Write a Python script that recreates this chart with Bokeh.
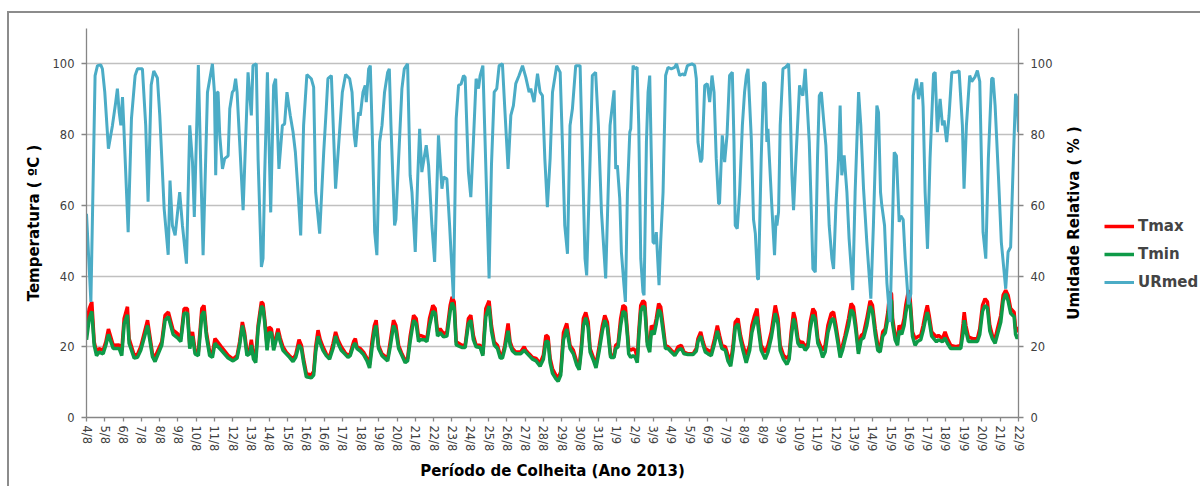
from bokeh.embed import file_html
from bokeh.layouts import row
from bokeh.models import FixedTicker, Legend, LegendItem, LinearAxis, Range1d, Title
from bokeh.plotting import figure
from bokeh.resources import INLINE

# x labels, one per day (as in the original sheet, 16/8 and 8/9 appear twice)
dias = ["4/8", "5/8", "6/8", "7/8", "8/8", "9/8", "10/8", "11/8", "12/8",
        "13/8", "14/8", "15/8", "16/8", "16/8", "17/8", "18/8", "19/8", "20/8",
        "21/8", "22/8", "23/8", "24/8", "25/8", "26/8", "27/8", "28/8", "29/8",
        "30/8", "31/8", "1/9", "2/9", "3/9", "4/9", "5/9", "6/9", "7/9", "8/9",
        "8/9", "9/9", "10/9", "11/9", "12/9", "13/9", "14/9", "15/9", "16/9",
        "17/9", "18/9", "19/9", "20/9", "21/9", "22/9"]

# relative humidity (%), time in days from the first label
t_ur = [0.0, 0.24, 0.47, 0.6, 0.78, 0.87, 1.0, 1.2, 1.42, 1.6, 1.69, 1.79, 1.88, 1.97, 2.04,
        2.28, 2.46, 2.66, 2.79, 3.06, 3.24, 3.37, 3.54, 3.68, 3.88, 4.01, 4.25, 4.47, 4.57,
        4.7, 4.85, 5.1, 5.25, 5.47, 5.65, 5.8, 5.9, 6.12, 6.25, 6.38, 6.62, 6.89, 7.0, 7.07,
        7.16, 7.2, 7.29, 7.44, 7.56, 7.75, 7.84, 7.98, 8.06, 8.16, 8.24, 8.38, 8.57, 8.84,
        9.02, 9.11, 9.29, 9.39, 9.57, 9.66, 9.75, 9.9, 10.08, 10.24, 10.35, 10.53, 10.72,
        10.84, 10.97, 11.15, 11.3, 11.43, 11.59, 11.72, 11.88, 12.06, 12.3, 12.43, 12.54,
        12.76, 12.98, 13.12, 13.21, 13.4, 13.63, 13.81, 14.0, 14.18, 14.4, 14.53, 14.65,
        14.73, 14.89, 14.98, 15.13, 15.25, 15.31, 15.44, 15.53, 15.65, 15.77, 15.89, 16.04,
        16.17, 16.31, 16.48, 16.57, 16.66, 16.86, 16.93, 17.08, 17.26, 17.39, 17.57, 17.71,
        17.81, 17.99, 18.13, 18.23, 18.35, 18.59, 18.72, 18.9, 19.05, 19.26, 19.45, 19.54,
        19.72, 19.87, 20.08, 20.23, 20.36, 20.5, 20.63, 20.72, 20.9, 21.03, 21.17, 21.32,
        21.45, 21.54, 21.69, 21.8, 22.03, 22.16, 22.31, 22.45, 22.58, 22.76, 22.89, 23.07,
        23.22, 23.36, 23.49, 23.67, 23.86, 24.04, 24.22, 24.31, 24.49, 24.68, 24.82, 24.95,
        25.08, 25.22, 25.37, 25.5, 25.73, 25.92, 26.04, 26.17, 26.32, 26.46, 26.59, 26.77,
        27.01, 27.14, 27.28, 27.37, 27.56, 27.68, 27.86, 28.01, 28.18, 28.41, 28.65, 28.87,
        28.96, 29.05, 29.18, 29.27, 29.41, 29.49, 29.6, 29.73, 29.78, 29.91, 30.0, 30.13,
        30.22, 30.33, 30.45, 30.51, 30.64, 30.73, 30.82, 30.91, 31.0, 31.09, 31.18, 31.33,
        31.42, 31.55, 31.69, 31.82, 32.0, 32.18, 32.29, 32.46, 32.64, 32.73, 32.88, 33.13,
        33.28, 33.37, 33.46, 33.61, 33.68, 33.83, 33.97, 34.1, 34.23, 34.34, 34.46, 34.59,
        34.64, 34.79, 34.92, 35.05, 35.19, 35.34, 35.43, 35.5, 35.61, 35.74, 35.89, 36.01,
        36.11, 36.2, 36.38, 36.5, 36.6, 36.72, 36.77, 36.92, 37.05, 37.14, 37.23, 37.29,
        37.36, 37.51, 37.65, 37.74, 37.78, 37.87, 37.96, 38.11, 38.24, 38.42, 38.51, 38.6,
        38.69, 38.82, 39.02, 39.11, 39.2, 39.33, 39.42, 39.55, 39.66, 39.75, 39.88, 40.0,
        40.1, 40.21, 40.33, 40.46, 40.64, 40.79, 40.88, 41.01, 41.15, 41.24, 41.33, 41.46,
        41.61, 41.73, 41.93, 42.06, 42.25, 42.37, 42.52, 42.7, 42.92, 43.06, 43.25, 43.34,
        43.45, 43.52, 43.67, 43.8, 43.97, 44.2, 44.32, 44.47, 44.56, 44.69, 44.8, 44.98,
        45.11, 45.24, 45.42, 45.53, 45.71, 45.78, 45.89, 46.02, 46.16, 46.35, 46.44, 46.56,
        46.71, 46.84, 46.93, 47.07, 47.2, 47.35, 47.57, 47.75, 47.93, 48.02, 48.15, 48.33,
        48.44, 48.63, 48.75, 48.88, 48.97, 49.06, 49.21, 49.35, 49.53, 49.61, 49.72, 49.9,
        50.06, 50.3, 50.43, 50.57, 50.72, 50.84, 50.93, 51.0]
ur = [57.6, 32.7, 96.7, 99.5, 99.7, 98.6, 92, 76, 82.6, 89.2, 93, 86.3, 82.6, 90.6, 82.6,
      52.4, 84.5, 96.7, 98.6, 98.6, 82.6, 61, 94, 98, 96, 85.4, 59, 46, 67,
      54.3, 51.5, 63.7, 54.3, 43.5, 82.6, 72.2, 56.7, 99.7, 71.3, 45.9, 92, 100, 92, 68.5,
      92, 92, 80, 70.3, 73.2, 74, 87.3, 92, 92.5, 95.8, 92, 78, 58.6, 97.6,
      85.4, 99.5, 100, 73, 42.6, 45, 68.5, 97.6, 58, 93.9, 95.8, 70.3, 82.6,
      83, 92, 85.4, 80.8, 75, 62.8, 51.5, 82.6, 97, 95.8, 93.4, 63.7,
      52, 75, 87.3, 95.8, 96.7, 64.7, 77.9, 92, 97, 95.8, 92, 79.8,
      76.5, 86.3, 85.4, 92, 93.9, 89.2, 98.6, 99.5, 77.9, 52.4, 45.9, 77.9,
      82.6, 92, 97.6, 98.6, 82.6, 54.3, 56, 73.2, 93, 98.6, 100, 68.5,
      63.7, 46.8, 68.5, 81.6, 69.4, 77, 71.3, 54.3, 44, 79.8, 64.7, 68,
      67.5, 54.3, 33.6, 84.5, 93.9, 94.3, 96.7, 96.2, 69.4, 62.3, 77.9, 95.8,
      93, 96.7, 99.5, 80, 39.3, 71.3, 92, 93, 99.5, 100, 87.3, 70.3,
      85.4, 88.2, 94.4, 96.7, 99.5, 96.2, 92, 93, 89.2, 97.2, 92, 91,
      73.2, 59.5, 73.2, 92, 99.5, 97.6, 77.9, 54.3, 46.3, 82.6, 87.3, 99.5,
      99.5, 73.2, 44.9, 40.2, 73.2, 96.7, 97.6, 82.6, 58.1, 39.3, 82.6, 92.5,
      70.3, 71.3, 61.9, 46.8, 37.4, 32.7, 63.7, 80.7, 81.6, 99.5, 98.6, 99,
      82.6, 44.9, 35.5, 34.6, 77.9, 92, 96.7, 73.2, 49.6, 49.2, 52.4, 37.4,
      49.6, 63.7, 96.7, 99, 98.6, 99, 100, 96.7, 97.2, 96.7, 99.5, 100,
      99.5, 95.8, 77.9, 72.2, 73.2, 93.9, 94.4, 89.2, 96.7, 92, 73.2, 60.5,
      60.5, 79.8, 72.2, 79.8, 96.7, 97.6, 77.9, 54.3, 53.4, 63.7, 82.6, 92,
      96.7, 98.6, 78.8, 56, 52, 39.3, 39, 73.2, 94.8, 94.4, 77.9, 81.6,
      74.1, 59, 45.9, 57.2, 54.3, 58.1, 82.6, 98.6, 99, 100, 87.3, 68.5,
      58.6, 73.2, 93.9, 92, 91, 98.6, 90.1, 77.9, 59, 42, 41.1, 73.2,
      91, 92, 84.5, 76.9, 54.3, 44.9, 42, 60, 73.2, 88.2, 68.5, 74.1,
      63.7, 50.6, 36, 63.7, 92, 82.6, 64.7, 49.6, 33.6, 54.3, 88.2, 86.3,
      63.7, 60, 54.3, 38, 27, 75, 74, 55.3, 57, 56, 45, 32,
      35, 91, 95.8, 90, 94.8, 88, 63.7, 47.7, 73.2, 97.2, 97.6, 80.7,
      90.1, 82.6, 84, 77.9, 85.4, 97.6, 97.6, 98, 82.6, 64.7, 82.6, 96.7,
      95, 96.4, 98.1, 95, 73.2, 52.4, 44.9, 73.2, 95.8, 96, 88.2, 68.5,
      49.6, 36.4, 46.8, 48.2, 73.2, 91.5, 90, 80.7]

# temperatures (ºC), shared time axis
t_temp = [0.0, 0.15, 0.29, 0.42, 0.55, 0.69, 0.91, 1.06, 1.2, 1.46, 1.79, 1.93, 2.06, 2.24,
          2.33, 2.61, 2.79, 2.97, 3.34, 3.61, 3.75, 4.12, 4.3, 4.48, 4.74, 4.98, 5.16, 5.34,
          5.52, 5.65, 5.8, 5.94, 6.12, 6.31, 6.43, 6.56, 6.74, 6.89, 7.03,
          7.11, 7.38, 7.75, 8.02, 8.24, 8.38, 8.53, 8.65, 8.78, 8.93, 9.02, 9.14, 9.26, 9.39,
          9.57, 9.66, 9.75, 9.88, 9.99, 10.12, 10.24, 10.48, 10.6, 10.75, 10.93, 11.11, 11.3,
          11.45, 11.63, 11.76, 11.88, 12.03, 12.3, 12.43, 12.54, 12.67, 12.79, 12.94, 13.12,
          13.3, 13.49, 13.63, 13.76, 13.94, 14.13, 14.31,
          14.43, 14.62, 14.71, 14.8, 14.98, 15.16, 15.35, 15.49, 15.62, 15.75, 15.85, 15.98,
          16.17, 16.48, 16.62, 16.8, 16.93, 17.08, 17.26, 17.44, 17.57, 17.71, 17.9, 18.04,
          18.17, 18.26, 18.48, 18.63, 18.77, 18.95, 19.08, 19.21, 19.35, 19.54, 19.72, 19.9,
          20.01, 20.12, 20.23, 20.54, 20.72, 20.9, 21.03, 21.17, 21.32, 21.54, 21.69,
          21.85, 22.03, 22.16, 22.31, 22.49, 22.64, 22.76, 22.89, 23.07, 23.18, 23.31, 23.49,
          23.76, 23.95, 24.04, 24.22, 24.41, 24.6, 24.82, 25.0, 25.14, 25.26, 25.37, 25.5,
          25.68, 25.81, 25.95, 26.1, 26.28, 26.46, 26.64, 26.83, 26.96, 27.08, 27.19, 27.32,
          27.45, 27.56, 27.75, 27.88, 28.06, 28.23, 28.36, 28.5, 28.68, 28.87, 28.96,
          29.09, 29.23, 29.36, 29.49, 29.6, 29.67, 29.78, 29.91, 30.03, 30.14, 30.22, 30.33,
          30.45, 30.55, 30.69, 30.82, 30.91, 31.06, 31.18, 31.31, 31.42, 31.55, 31.68, 31.82,
          32.0, 32.19, 32.37, 32.55, 32.7, 32.91, 33.19, 33.37, 33.46, 33.61, 33.74, 33.86,
          34.01, 34.19, 34.37, 34.52, 34.64, 34.77, 34.96, 35.1, 35.25, 35.38, 35.5, 35.65,
          35.79, 35.92, 36.1, 36.29,
          36.41, 36.56, 36.69, 36.78, 36.92, 37.14, 37.29, 37.47, 37.69, 37.84, 37.96, 38.14,
          38.33, 38.45, 38.56, 38.69, 38.78, 38.93, 39.06, 39.18, 39.33, 39.48, 39.6, 39.75,
          39.87, 40.02, 40.15, 40.28, 40.42, 40.57, 40.75, 40.88, 41.01, 41.15, 41.24, 41.37,
          41.51, 41.7, 41.84, 41.97, 42.1, 42.24, 42.39, 42.52, 42.7, 42.88, 43.01, 43.16,
          43.3, 43.43, 43.57, 43.71, 43.85,
          43.95, 44.05, 44.11, 44.25, 44.38, 44.47, 44.61, 44.74, 44.83, 44.98, 45.07, 45.2,
          45.34, 45.47, 45.65, 45.78, 45.92, 46.01, 46.11, 46.25, 46.51, 46.62, 46.84, 46.98,
          47.11, 47.29, 47.57, 47.84, 47.97, 48.03, 48.12, 48.26, 48.48, 48.75, 48.88, 49.03,
          49.17, 49.3, 49.43, 49.57, 49.72, 49.85, 50.03, 50.16, 50.3, 50.43, 50.57, 50.76,
          50.84, 50.93, 51.0]
tmax = [26, 30.8, 32.7, 21.4, 18.5, 19.5, 19, 21.4, 25, 20.4, 20.5, 19, 28, 31.3,
        22.3, 17.6, 17.8, 20, 27.5, 18, 17.1, 21.4, 28.9, 29.8, 24.7, 23.7, 22.3, 30.8,
        30.8, 20.4, 24.2, 19, 18.5, 30.8, 31.7, 24.2, 18.5, 18, 22.3,
        21.8, 20, 17.6, 16.5, 17.5, 21.4, 27, 24, 18.5, 19, 22, 17.5, 17, 26,
        32.7, 32.2, 28, 20.4, 25.6, 25, 20, 25.1, 22.5, 20, 18.5, 17.5, 16.5,
        17.8, 22, 20.4, 16.5, 12.5, 12, 13, 20, 24.7, 22, 20, 18,
        17, 20.9, 24.2, 22, 20, 18.5, 17.5,
        18, 21.5, 22.3, 20, 19.5, 18.5, 16.7, 15, 21.4, 26, 27.5, 20.4,
        18, 16.7, 21.4, 27.5, 26, 20.4, 18, 16.2, 16.7, 23, 28.9, 28,
        22.8, 23.2, 22.8, 22.3, 28, 31.7, 30.8, 24.2, 25.1, 23.7, 24.2, 31.7,
        34.1, 32.7, 21.4, 20.4, 20.4, 28, 28.9, 23.2, 20.4, 20.4, 18,
        30.8, 33, 26, 21.4, 20.4, 17.6, 17.6, 20.4, 26.6, 21.4, 19.5, 18.5,
        18.5, 20, 19, 18, 17, 16.7, 15.3, 17.6, 23.3, 22.8, 16.7, 13.8,
        12, 11, 13, 24, 26.6, 20.4, 19, 15.7, 14.3, 20.4, 28, 29.7,
        27, 19.5, 16.7, 14.8, 20.4, 26, 28.9, 27, 17.6, 17.6, 20.4,
        21, 28, 31.7, 31.2, 24.2, 19.5, 19, 19.5, 19, 16.7, 24.2, 31.7,
        33, 32.5, 21.4, 20, 26, 25, 28, 32.2, 31.3, 26, 20.4, 20,
        19, 18, 20, 20.4, 18.5, 18, 18, 19.5, 22.3, 24.2, 21.4, 19.5,
        19, 18.5, 22.3, 26, 23.2, 20.4, 20, 17.6, 15.7, 20.4, 27, 28,
        23.2, 20.4, 17.6, 20.4,
        26, 28.9, 30.8, 26, 20.4, 18.5, 20.4, 24.2, 31.7, 28, 20.4, 17.6,
        16.7, 17.6, 24.2, 29.8, 28, 22.3, 21, 21.4, 20, 21, 27, 30.8,
        29.8, 22.3, 20.4, 19, 20.4, 26, 29.4, 29.8, 26, 21.4, 18, 20.4,
        23.2, 28, 32.2, 31.3, 26, 19, 23.2, 23.7, 28, 33, 31.7, 25.1,
        20.4, 19.5, 24.2, 25.1, 29.8,
        35.5, 35, 28, 23.2, 22.3, 26, 25, 28, 31.7, 36, 33.6, 24.2,
        22.3, 22.8, 23.2, 26, 29.8, 31.7, 28.9, 24.2, 22.8, 23.2, 22.3, 24.2,
        22.3, 20.4, 20, 20.4, 26.6, 29.8, 26, 22.8, 22.3, 22.3, 25.1, 31.7,
        33.6, 32.7, 26, 23.2, 22.3, 25.1, 28.9, 34.6, 36, 34.6, 30.8, 29.8,
        25.1, 24.2, 25.6]
tmin = [22, 28, 30, 20.5, 17.5, 18.5, 18, 20.5, 23.5, 19.5, 19.5, 17.5, 26.5, 29,
        21, 16.8, 17, 19, 26, 17.2, 15.8, 20.5, 27.5, 28.5, 23.5, 22.5, 21.5, 29.5,
        29.5, 19.5, 23, 18, 17.5, 29, 30, 23, 17.5, 17, 21,
        20.5, 19, 16.8, 16, 16.8, 20.5, 26, 23, 17.5, 18, 20.5, 16.5, 15.5, 25,
        31.5, 31, 27, 19, 24, 24, 19, 24, 21.5, 19, 18, 17, 15.8,
        17, 20.5, 19.5, 15.5, 11.5, 11.2, 12, 18.5, 23, 21, 19, 17.5,
        16.5, 19.5, 23, 21, 19, 18, 17,
        17.5, 20.5, 21, 19.5, 18.8, 17.8, 16, 14, 19.5, 24.5, 26, 19.5,
        17.5, 16, 20, 26, 24.5, 19.5, 17.5, 15.5, 16, 21.5, 27.5, 26.5,
        21.5, 22, 22, 21.5, 26, 30, 29.5, 23, 24, 22.8, 23, 30,
        32.5, 31, 20.5, 19.8, 19.8, 26.5, 27.5, 22, 20, 19.8, 17.5,
        28.5, 31.5, 24.5, 20.5, 19.5, 16.8, 16.8, 19.5, 24.5, 20.5, 18.8, 18,
        18, 19, 18.5, 17.5, 16.5, 16, 14.5, 16.5, 21.5, 21.5, 15.5, 12.5,
        11, 10.2, 12, 22, 25, 19.5, 18, 14.8, 13.5, 19, 26, 28.2,
        25.5, 18.5, 16, 14, 19, 24.5, 27.5, 25.5, 17, 17, 19.5,
        20, 26, 30, 29.5, 23, 18, 17, 17.5, 17, 15.5, 22.5, 30,
        31.5, 31, 20.5, 18.5, 24.5, 23.5, 26.5, 30.5, 29.5, 24.5, 19.5, 19.5,
        18.5, 17.5, 19, 19.5, 18, 17.8, 17.8, 18.8, 21.5, 23, 20.5, 18.5,
        18, 17.5, 21, 24.5, 22, 19.5, 19, 16, 14.5, 19, 25.5, 26.5,
        22, 19, 15.5, 19,
        24, 27, 28.5, 24.5, 19, 16.5, 18.5, 22.5, 29.5, 26.5, 19, 16.5,
        15, 16.5, 22.5, 28, 26.5, 21, 20, 20.5, 19, 20, 25, 29,
        28, 21, 19.5, 17, 18.5, 24, 27.5, 28, 24.5, 20, 17, 19,
        22, 26, 30.5, 29.5, 24.5, 18, 22, 22.5, 26, 31.5, 30, 23.5,
        19, 18.5, 23, 24, 28,
        33.5, 33, 26.5, 22, 20.4, 24.5, 23.5, 26, 29.5, 33.6, 32, 23,
        20.4, 21.5, 22, 24.5, 28, 29.8, 27.5, 23, 21.4, 22, 21.4, 22.5,
        21, 19.5, 19.5, 19.5, 24, 27.5, 24.5, 21.5, 21.5, 21.5, 23.5, 30,
        31.7, 31, 24.5, 22.3, 21, 23.5, 27, 33, 35, 33, 29.5, 28.5,
        23.5, 22.3, 23.5]

GRAY = "#868686"
TICK_FONT = "DejaVu Sans"
COR_MAX, COR_MIN, COR_UR = "#ff0000", "#0e9a48", "#4bacc6"

fig = figure(width=1046, height=473, output_backend="svg", toolbar_location=None,
             x_range=Range1d(0, 51), y_range=Range1d(0, 110),
             min_border_left=77, min_border_right=36, min_border_top=15,
             min_border_bottom=69)
fig.extra_y_ranges = {"ur": Range1d(0, 110)}
fig.outline_line_color = None

ticks_y = [0, 20, 40, 60, 80, 100]

fig.xgrid.visible = False
fig.ygrid.ticker = FixedTicker(ticks=ticks_y)
fig.ygrid.grid_line_color = "#c0c0c0"
fig.ygrid.grid_line_width = 1.3

# x axis: one tick per day label
fig.xaxis.ticker = FixedTicker(ticks=list(range(len(dias))))
fig.xaxis.major_label_overrides = {i: d for i, d in enumerate(dias)}
fig.xaxis.major_label_orientation = "vertical"
fig.xaxis.axis_label = "Período de Colheita (Ano 2013)"

# left axis
fig.yaxis.ticker = FixedTicker(ticks=ticks_y)
fig.yaxis.axis_label = "Temperatura ( ºC )"

# right axis (its title is set on the side figure so it reads bottom to top)
ax_r = LinearAxis(y_range_name="ur", ticker=FixedTicker(ticks=ticks_y))
fig.add_layout(ax_r, "right")

for ax in [fig.xaxis[0], fig.yaxis[0], ax_r]:
    ax.axis_line_color = GRAY
    ax.axis_line_width = 1.3
    ax.major_tick_line_color = GRAY
    ax.major_tick_line_width = 1.3
    ax.major_tick_in = 0
    ax.major_tick_out = 5
    ax.minor_tick_line_color = None
    ax.major_label_text_font = TICK_FONT
    ax.major_label_text_font_size = "11.5px"
    ax.major_label_text_color = "#404040"
    ax.major_label_standoff = 7
    ax.axis_label_text_font = "DejaVu Sans"
    ax.axis_label_text_font_style = "bold"
    ax.axis_label_text_font_size = "15px"
    ax.axis_label_text_color = "black"
    ax.axis_label_standoff = 7
fig.xaxis.major_tick_out = 4
fig.xaxis.major_label_standoff = 4
fig.xaxis.axis_label_standoff = 8

fig.line(t_temp, tmax, line_color=COR_MAX, line_width=3.5)
fig.line(t_temp, tmin, line_color=COR_MIN, line_width=3.5)
fig.line(t_ur, ur, line_color=COR_UR, line_width=3, y_range_name="ur")

# side figure: right-axis title + legend; its renderers carry the same series
# but the view range keeps them out of sight
side = figure(width=145, height=473, output_backend="svg", toolbar_location=None,
              x_axis_type=None, y_axis_type=None, min_border=0, min_border_left=30,
              x_range=Range1d(-20, -10), y_range=Range1d(0, 110))
side.outline_line_color = None
side.add_layout(Title(text="Umidade Relativa ( % )", align="center",
                      text_font="DejaVu Sans", text_font_style="bold",
                      text_font_size="15px", text_color="black", standoff=5), "left")
k_max = side.line(t_temp, tmax, line_color=COR_MAX, line_width=3.5)
k_min = side.line(t_temp, tmin, line_color=COR_MIN, line_width=3.5)
k_ur = side.line(t_ur, ur, line_color=COR_UR, line_width=3)

legend = Legend(items=[LegendItem(label="Tmax", renderers=[k_max]),
                       LegendItem(label="Tmin", renderers=[k_min]),
                       LegendItem(label="URmed", renderers=[k_ur])],
                location=(19, 125))
legend.border_line_color = None
legend.background_fill_alpha = 0
legend.padding = 0
legend.margin = 0
legend.spacing = 8
legend.glyph_width = 30
legend.glyph_height = 20
legend.label_standoff = 4
legend.label_text_font = "DejaVu Sans"
legend.label_text_font_style = "bold"
legend.label_text_font_size = "15px"
side.add_layout(legend, "center")

p = row(fig, side, margin=(11, 0, 0, 7))
p.styles = {"border-top": "2px solid #8c8c8c", "border-left": "2px solid #8c8c8c"}

open("out.html", "w").write(file_html(p, INLINE))
